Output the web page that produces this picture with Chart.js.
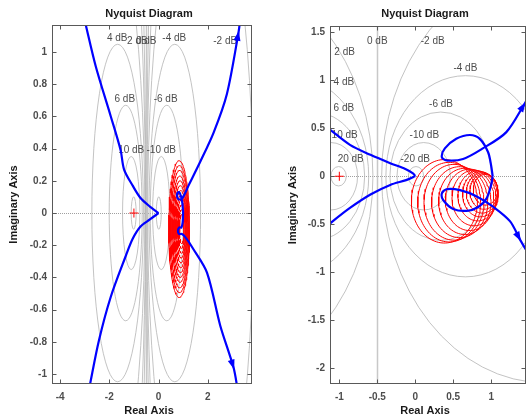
<!DOCTYPE html>
<html>
<head>
<meta charset="utf-8">
<script src="https://cdn.jsdelivr.net/npm/chart.js@4.4.1/dist/chart.umd.min.js"></script>
<style>
  html, body { margin: 0; padding: 0; background: #fff; overflow: hidden; }
  #izq { position: absolute; left: 0; top: 0; }
  #der { position: absolute; left: 263px; top: 0; }
</style>
</head>
<body>
<canvas id="izq" width="263" height="417"></canvas>
<canvas id="der" width="264" height="417"></canvas>
<script>
// niveles de las circunferencias M (dB) de cada rejilla de Nyquist
const izqNivelesDb = [-20, -10, -6, -4, -2, -1, -0.5, 0, 0.5, 1, 2, 4, 6, 10, 20];
const derNivelesDb = [-20, -10, -6, -4, -2, 0, 2, 4, 6, 10, 20];

// ---- gráfico izquierdo: ramas de la curva de Nyquist (Re, Im) ----
const izqRamaIzqSup = [[-3.08, 1.25], [-2.96, 1.17], [-2.55, 0.91], [-1.94, 0.60], [-1.54, 0.39], [-1.40, 0.27], [-1.05, 0.17], [-0.74, 0.095], [-0.35, 0.04], [0, 0]];
const izqRamaIzqInf = [[0, 0], [-0.35, -0.04], [-0.74, -0.085], [-1.05, -0.16], [-1.34, -0.27], [-1.94, -0.52], [-2.42, -0.79], [-2.78, -1.06], [-2.85, -1.12]];
const izqRamaDerSup = [[1.0, 0.0], [0.97, 0.06], [0.92, 0.10], [0.84, 0.13], [0.77, 0.125], [0.76, 0.10], [0.82, 0.085], [0.96, 0.09], [1.25, 0.18], [1.70, 0.32], [2.24, 0.50], [2.78, 0.74], [3.25, 1.12], [3.32, 1.2]];
const izqRamaDerInf = [[1.0, 0.0], [0.98, -0.06], [0.93, -0.09], [0.84, -0.09], [0.79, -0.11], [0.83, -0.13], [0.95, -0.13], [1.09, -0.15], [1.4, -0.22], [1.97, -0.37], [2.51, -0.70], [3.05, -0.96], [3.22, -1.1]];
// discos de incertidumbre (centro y radio)
const izqDiscoX = [0.84, 0.85, 0.86, 0.87, 0.88, 0.89, 0.90, 0.91, 0.92, 0.93, 0.93, 0.94];
const izqDiscoY = [-0.10, -0.10, -0.10, -0.10, -0.10, -0.10, -0.10, -0.10, -0.10, -0.10, -0.10, -0.10];
const izqDiscoR = [0.425, 0.395, 0.365, 0.33, 0.30, 0.27, 0.24, 0.21, 0.18, 0.15, 0.12, 0.09];
const izqEtiquetas = [[-1.68, 1.085, '4 dB'], [-0.86, 1.064, '2 dB'], [-0.5, 1.064, '0 dB'], [0.64, 1.085, '-4 dB'], [2.71, 1.064, '-2 dB'],
  [-1.37, 0.707, '6 dB'], [0.29, 0.707, '-6 dB'], [-1.11, 0.392, '10 dB'], [0.11, 0.392, '-10 dB']];

// ---- gráfico derecho ----
const derRamaIzqSup = [[-1.25, 0.56], [-1.12, 0.484], [-0.86, 0.327], [-0.59, 0.223], [-0.33, 0.136], [-0.13, 0.075], [-0.03, 0.03], [0.0, 0.003]];
const derRamaIzqInf = [[0.0, 0.003], [-0.03, -0.01], [-0.12, -0.04], [-0.33, -0.09], [-0.59, -0.19], [-0.86, -0.33], [-1.12, -0.49], [-1.25, -0.58]];
const derRamaDerSup = [[1.02, 0.0], [1.0, 0.11], [0.96, 0.25], [0.85, 0.39], [0.72, 0.43], [0.54, 0.39], [0.39, 0.29], [0.35, 0.20], [0.41, 0.166], [0.63, 0.18], [0.89, 0.29], [1.20, 0.46], [1.44, 0.755], [1.55, 0.9]];
const derRamaDerInf = [[1.02, 0.0], [1.0, -0.09], [0.94, -0.23], [0.83, -0.32], [0.68, -0.36], [0.50, -0.34], [0.37, -0.25], [0.35, -0.18], [0.41, -0.135], [0.59, -0.145], [0.81, -0.21], [1.03, -0.32], [1.25, -0.47], [1.38, -0.66], [1.5, -0.82]];
const derDiscoX = [0.384, 0.447, 0.510, 0.585, 0.653, 0.717, 0.774, 0.822, 0.859, 0.883, 0.905, 0.925];
const derDiscoY = [-0.261, -0.270, -0.271, -0.270, -0.262, -0.246, -0.226, -0.205, -0.188, -0.174, -0.159, -0.141];
const derDiscoR = [0.435, 0.415, 0.395, 0.37, 0.345, 0.32, 0.29, 0.26, 0.235, 0.21, 0.185, 0.16];
const derEtiquetas = [[-0.5, 1.408, '0 dB'], [0.23, 1.408, '-2 dB'], [-0.93, 1.297, '2 dB'], [-0.94, 0.98, '4 dB'], [-0.94, 0.706, '6 dB'],
  [-0.93, 0.424, '10 dB'], [-0.85, 0.174, '20 dB'], [0.66, 1.123, '-4 dB'], [0.34, 0.748, '-6 dB'], [0.12, 0.424, '-10 dB'], [0.0, 0.174, '-20 dB']];

Chart.defaults.font.family = "'Liberation Sans', Arial, sans-serif";

const GRIS_EJE = '#595959';
const fmtTick = v => String(parseFloat(Number(v).toFixed(2)));

function crearNyquist(id, conf) {
  const datasets = [];
  // curvas azules (van primero para quedar encima)
  conf.curvas.forEach(c => datasets.push({
    data: c.map(p => ({ x: p[0], y: p[1] })),
    showLine: true, borderColor: '#0000ff', borderWidth: 2.2,
    pointRadius: 0, tension: 0.3, clip: 0
  }));
  // discos rojos
  conf.discoX.forEach((cx, i) => {
    const pts = [];
    for (let k = 0; k <= 90; k++) {
      const t = k / 90 * 2 * Math.PI;
      pts.push({ x: cx + conf.discoR[i] * Math.cos(t), y: conf.discoY[i] + conf.discoR[i] * Math.sin(t) });
    }
    datasets.push({ data: pts, showLine: true, borderColor: '#ff0000', borderWidth: 1, pointRadius: 0, tension: 0, clip: 0 });
  });
  // punto crítico -1
  datasets.push({ data: [{ x: -1, y: 0 }], showLine: false, pointStyle: 'cross', pointRadius: 4.5, borderColor: '#ff0000', borderWidth: 1 });

  const rejilla = {
    id: 'rejilla_' + id,
    beforeDatasetsDraw(chart) {
      const { ctx, chartArea: a, scales: { x, y } } = chart;
      ctx.save();
      ctx.beginPath(); ctx.rect(a.left, a.top, a.right - a.left, a.bottom - a.top); ctx.clip();
      // eje real punteado
      const y0 = Math.round(y.getPixelForValue(0)) + 0.5;
      ctx.strokeStyle = '#a0a0a0'; ctx.lineWidth = 1; ctx.setLineDash([1, 1]);
      ctx.beginPath(); ctx.moveTo(a.left, y0); ctx.lineTo(a.right, y0); ctx.stroke();
      ctx.setLineDash([]);
      // circunferencias M
      const sx = x.getPixelForValue(1) - x.getPixelForValue(0);
      const sy = y.getPixelForValue(0) - y.getPixelForValue(1);
      conf.niveles.forEach(db => {
        ctx.beginPath();
        if (db === 0) {
          const px = Math.round(x.getPixelForValue(-0.5)) + 0.5;
          ctx.strokeStyle = '#c8c8c8'; ctx.lineWidth = 1.5;
          ctx.moveTo(px, a.top); ctx.lineTo(px, a.bottom);
        } else {
          const M = Math.pow(10, db / 20);
          const c = -M * M / (M * M - 1);
          const r = Math.abs(M / (M * M - 1));
          ctx.strokeStyle = '#b4b4b4'; ctx.lineWidth = 0.8;
          ctx.ellipse(x.getPixelForValue(c), y.getPixelForValue(0), r * sx, r * sy, 0, 0, 2 * Math.PI);
        }
        ctx.stroke();
      });
      // etiquetas dB
      ctx.fillStyle = '#4d4d4d'; ctx.font = "10px 'Liberation Sans', Arial, sans-serif";
      ctx.textAlign = 'center'; ctx.textBaseline = 'middle';
      conf.etiquetas.forEach(e => ctx.fillText(e[2], x.getPixelForValue(e[0]), y.getPixelForValue(e[1])));
      ctx.restore();
    },
    afterDatasetsDraw(chart) {
      const { ctx, chartArea: a, scales: { x, y } } = chart;
      ctx.save();
      ctx.beginPath(); ctx.rect(a.left, a.top, a.right - a.left, a.bottom - a.top); ctx.clip();
      // puntas de flecha
      ctx.fillStyle = '#0000ff';
      conf.flechas.forEach(f => {
        const c = conf.curvas[f[0]];
        const p1 = c[f[1] - 1], p2 = c[f[1]];
        const x1 = x.getPixelForValue(p1[0]), y1 = y.getPixelForValue(p1[1]);
        const x2 = x.getPixelForValue(p2[0]), y2 = y.getPixelForValue(p2[1]);
        const ang = Math.atan2(y2 - y1, x2 - x1);
        ctx.save();
        ctx.translate(x2, y2); ctx.rotate(ang);
        ctx.beginPath(); ctx.moveTo(2, 0); ctx.lineTo(-8, -3.5); ctx.lineTo(-8, 3.5); ctx.closePath(); ctx.fill();
        ctx.restore();
      });
      ctx.restore();
    },
    afterDraw(chart) {
      const { ctx, chartArea: a, scales: { x, y } } = chart;
      ctx.save();
      // caja y marcas interiores
      ctx.strokeStyle = GRIS_EJE; ctx.lineWidth = 1;
      const L = Math.round(a.left) + 0.5, R = Math.round(a.right) - 0.5;
      const T = Math.round(a.top) + 0.5, B = Math.round(a.bottom) - 0.5;
      ctx.strokeRect(L, T, R - L, B - T);
      ctx.beginPath();
      x.ticks.forEach(t => {
        const px = Math.round(x.getPixelForValue(t.value)) + 0.5;
        ctx.moveTo(px, B); ctx.lineTo(px, B - 4);
        ctx.moveTo(px, T); ctx.lineTo(px, T + 4);
      });
      y.ticks.forEach(t => {
        const py = Math.round(y.getPixelForValue(t.value)) + 0.5;
        ctx.moveTo(L, py); ctx.lineTo(L + 4, py);
        ctx.moveTo(R, py); ctx.lineTo(R - 4, py);
      });
      ctx.stroke();
      // títulos
      const cx = (a.left + a.right) / 2 - 3;
      ctx.fillStyle = '#1a1a1a';
      ctx.font = "bold 11px 'Liberation Sans', Arial, sans-serif";
      ctx.textAlign = 'center'; ctx.textBaseline = 'middle';
      ctx.fillText('Nyquist Diagram', cx, 14);
      ctx.fillText('Real Axis', cx, 411);
      ctx.translate(conf.tituloY, (a.top + a.bottom) / 2);
      ctx.rotate(-Math.PI / 2);
      ctx.fillText('Imaginary Axis', 0, 0);
      ctx.restore();
    }
  };

  const ejeTicks = paso => ({
    stepSize: paso, includeBounds: false, autoSkip: false, maxRotation: 0,
    color: '#4d4d4d', font: { size: 10, weight: 'bold' }, callback: fmtTick
  });

  return new Chart(document.getElementById(id), {
    type: 'scatter',
    data: { datasets },
    options: {
      responsive: false,
      animation: false,
      events: [],
      layout: { autoPadding: false, padding: { left: 0, top: conf.area.top, right: conf.area.right, bottom: 0 } },
      plugins: { legend: { display: false }, tooltip: { enabled: false } },
      scales: {
        x: {
          type: 'linear', min: conf.xMin, max: conf.xMax,
          grid: { display: false, drawTicks: false }, border: { display: false },
          ticks: { ...ejeTicks(conf.xPaso), padding: 7 },
          afterFit: s => { s.height = conf.area.abajo; }
        },
        y: {
          type: 'linear', min: conf.yMin, max: conf.yMax,
          grid: { display: false, drawTicks: false }, border: { display: false },
          ticks: { ...ejeTicks(conf.yPaso), padding: 5 },
          afterFit: s => { s.width = conf.area.izq; }
        }
      }
    },
    plugins: [rejilla]
  });
}

document.addEventListener('DOMContentLoaded', () => {
  crearNyquist('izq', {
    curvas: [izqRamaIzqSup, izqRamaIzqInf, izqRamaDerSup, izqRamaDerInf],
    flechas: [[2, 12], [3, 11]],
    discoX: izqDiscoX, discoY: izqDiscoY, discoR: izqDiscoR,
    etiquetas: izqEtiquetas, niveles: izqNivelesDb,
    xMin: -4.33, xMax: 3.80, xPaso: 2,
    yMin: -1.062, yMax: 1.168, yPaso: 0.2,
    area: { izq: 52, top: 25, right: 11, abajo: 33 },
    tituloY: 14
  });
  crearNyquist('der', {
    curvas: [derRamaIzqSup, derRamaIzqInf, derRamaDerSup, derRamaDerInf],
    flechas: [[2, 12], [3, 13]],
    discoX: derDiscoX, discoY: derDiscoY, discoR: derDiscoR,
    etiquetas: derEtiquetas, niveles: derNivelesDb,
    xMin: -1.123, xMax: 1.459, xPaso: 0.5,
    yMin: -2.165, yMax: 1.566, yPaso: 0.5,
    area: { izq: 67, top: 26, right: 1, abajo: 33 },
    tituloY: 30
  });
});
</script>
</body>
</html>
